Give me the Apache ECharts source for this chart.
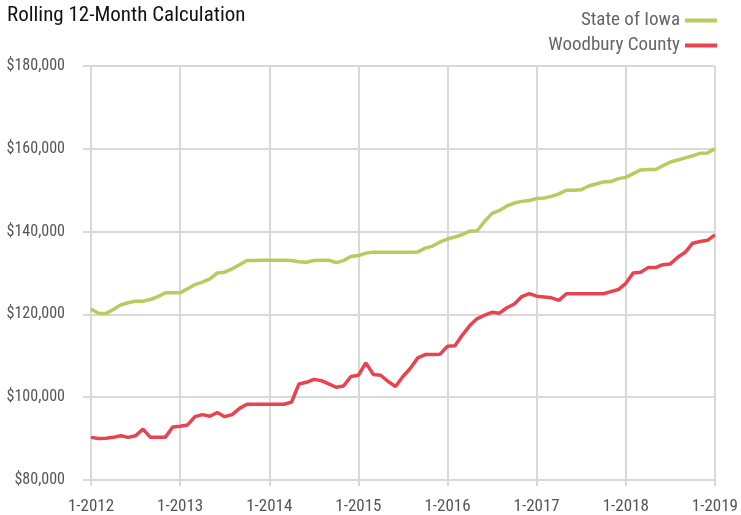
<!DOCTYPE html>
<html>
<head>
<meta charset="utf-8">
<script src="https://cdn.jsdelivr.net/npm/echarts@6/dist/echarts.min.js"></script>
<style>
html,body{margin:0;padding:0;background:#fff;}
#chart{width:741px;height:515px;}
</style>
</head>
<body>
<div id="chart"></div>
<script>
var startYear = 2012;
var endYear = 2019;
var tickLabels = ['1-2012','1-2013','1-2014','1-2015','1-2016','1-2017','1-2018','1-2019'];
var categories = [];
for (var y = startYear; y <= endYear; y++) {
  for (var m = 1; m <= 12; m++) {
    if (y === endYear && m > 1) break;
    categories.push(m + '-' + y);
  }
}
var stateOfIowa = [
  121300,120300,120200,121200,122300,122800,123200,123200,123600,124300,125200,125200,
  125200,126200,127200,127800,128600,130000,130200,131000,132000,133000,133000,133100,
  133100,133100,133100,133000,132700,132600,133000,133100,133100,132500,133000,134000,
  134200,134800,135000,135000,135000,135000,135000,135000,135100,136000,136500,137500,
  138200,138700,139300,140100,140200,142500,144400,145100,146200,146900,147300,147500,
  148000,148100,148500,149100,150000,150000,150100,151000,151500,152000,152100,152800,
  153100,154000,154900,155000,155000,155900,156800,157300,157800,158300,158900,159000,
  160000
];
var woodburyCounty = [
  90300,90000,90100,90300,90700,90300,90700,92300,90300,90300,90300,92800,
  93000,93300,95300,95800,95400,96300,95300,95800,97300,98300,98300,98300,
  98300,98300,98300,98800,103200,103600,104300,104000,103200,102400,102700,105000,
  105300,108300,105500,105300,103800,102600,105000,107000,109500,110300,110300,110400,
  112300,112400,115000,117300,119000,119800,120500,120300,121600,122500,124300,125000,
  124400,124200,124000,123400,125000,125000,125000,125000,125000,125000,125500,126000,
  127500,130000,130200,131300,131300,132000,132200,133800,135000,137200,137600,137900,
  139200
];
var fontFam = '"Liberation Sans Narrow","Roboto Condensed","DejaVu Sans Condensed","Liberation Sans",sans-serif';
var chart = echarts.init(document.getElementById('chart'));
chart.setOption({
  animation: false,
  backgroundColor: '#ffffff',
  title: {
    text: 'Rolling 12-Month Calculation',
    left: 2, top: 0,
    textStyle: {fontFamily: fontFam, fontSize: 21, fontWeight: 'normal', color: '#111'}
  },
  legend: {
    orient: 'vertical',
    right: 19, top: 6,
    align: 'right',
    icon: 'rect',
    itemWidth: 32, itemHeight: 4,
    itemGap: 6,
    textStyle: {fontFamily: fontFam, fontSize: 19, color: '#666'},
    data: ['State of Iowa','Woodbury County']
  },
  grid: {left: 91, right: 25, top: 66, bottom: 34},
  xAxis: {
    type: 'category',
    boundaryGap: false,
    data: categories,
    axisLine: {lineStyle: {color: '#d9d9d9', width: 2}},
    axisTick: {show: true, interval: 11, length: 6, lineStyle: {color: '#d9d9d9', width: 2}},
    splitLine: {show: true, interval: 11, lineStyle: {color: '#d9d9d9', width: 2}},
    axisLabel: {
      interval: 11, margin: 18,
      fontFamily: fontFam, fontSize: 17, color: '#555',
      formatter: function (v) { return tickLabels.indexOf(v) >= 0 ? v : ''; }
    }
  },
  yAxis: {
    type: 'value',
    min: 80000, max: 180000, interval: 20000,
    axisLine: {show: false},
    axisTick: {show: true, length: 8, lineStyle: {color: '#d9d9d9', width: 2}},
    splitLine: {lineStyle: {color: '#d9d9d9', width: 2}},
    axisLabel: {
      margin: 26,
      fontFamily: fontFam, fontSize: 16, color: '#555',
      formatter: function (v) { return '$' + v.toLocaleString('en-US'); }
    }
  },
  series: [
    {name: 'State of Iowa', type: 'line', data: stateOfIowa, symbol: 'none',
     color: '#b5cc5e', lineStyle: {width: 3.5, color: '#b5cc5e'}},
    {name: 'Woodbury County', type: 'line', data: woodburyCounty, symbol: 'none',
     color: '#e8434f', lineStyle: {width: 3.5, color: '#e8434f'}}
  ]
});
</script>
</body>
</html>
